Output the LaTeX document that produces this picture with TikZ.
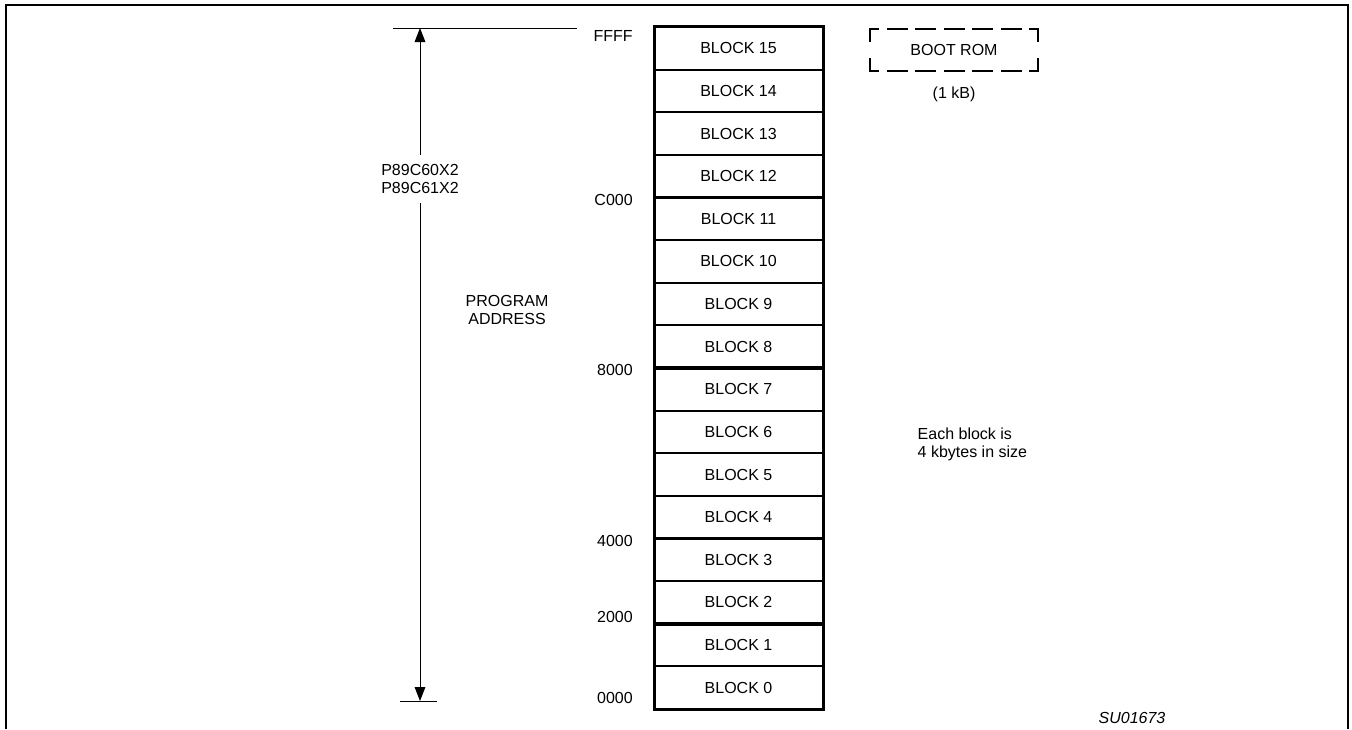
\documentclass[tikz,border=0pt]{standalone}
\usepackage{fontspec}
\setmainfont{Liberation Sans}
\usetikzlibrary{arrows.meta,positioning}

\begin{document}
\begin{tikzpicture}[
  x=0.75pt, y=-0.75pt,
  font=\fontsize{12}{13.5}\selectfont,
  node distance=0pt,
  blk/.style={draw, line width=1.5pt, minimum width=126.75pt, minimum height=31.97pt, inner sep=0pt, outer sep=0pt},
  rim/.style={line width=2.25pt},
  sep/.style={line width=2.8pt},
  addr/.style={anchor=east, inner sep=0pt},
  rom/.style={minimum width=126pt, minimum height=31.5pt, outer sep=0pt},
  romh/.style={line width=1.9pt, line cap=rect, dash pattern=on 13.9pt off 7.5pt, dash phase=7.9pt},
  romv/.style={line width=1.9pt, line cap=rect, dash pattern=on 9pt off 13.5pt},
  thin/.style={line width=0.75pt},
  ar/.style={{Triangle[length=10.5pt,width=8pt]}-{Triangle[length=10.5pt,width=8pt]}, line width=0.75pt}
]
\useasboundingbox (0,0) rectangle (1352,729);

% frame
\draw[line width=1.6pt] (6,729) -- (6,5) -- (1348,5) -- (1348,729);

% memory blocks
\node[blk] (b15) at (738.5,48.3) {BLOCK 15};
\node[blk, below=of b15] (b14) {BLOCK 14};
\node[blk, below=of b14] (b13) {BLOCK 13};
\node[blk, below=of b13] (b12) {BLOCK 12};
\node[blk, below=of b12] (b11) {BLOCK 11};
\node[blk, below=of b11] (b10) {BLOCK 10};
\node[blk, below=of b10] (b9) {BLOCK 9};
\node[blk, below=of b9] (b8) {BLOCK 8};
\node[blk, below=of b8] (b7) {BLOCK 7};
\node[blk, below=of b7] (b6) {BLOCK 6};
\node[blk, below=of b6] (b5) {BLOCK 5};
\node[blk, below=of b5] (b4) {BLOCK 4};
\node[blk, below=of b4] (b3) {BLOCK 3};
\node[blk, below=of b3] (b2) {BLOCK 2};
\node[blk, below=of b2] (b1) {BLOCK 1};
\node[blk, below=of b1] (b0) {BLOCK 0};

\draw[rim] (b15.north west) rectangle (b0.south east);
\draw[sep] (b12.south west) -- (b12.south east);
\draw[sep] (b8.south west) -- (b8.south east);
\draw[sep] (b4.south west) -- (b4.south east);
\draw[sep] (b2.south west) -- (b2.south east);

% addresses
\node[addr] (aFFFF) at (633,36) {FFFF};
\node[addr] (aC000) at (633,200) {C000};
\node[addr] (a8000) at (633,370) {8000};
\node[addr] (a4000) at (633,541) {4000};
\node[addr] (a2000) at (633,617) {2000};
\node[addr] (a0000) at (633,698) {0000};

% program address span
\coordinate (tl) at (393,28);
\coordinate (tr) at (577,28);
\coordinate (top) at (420,28);
\coordinate (bl) at (400,701);
\coordinate (br) at (437,701);
\coordinate (bot) at (420,701);
\draw[thin] (tl) -- (tr);
\draw[thin] (bl) -- (br);
\draw[ar] (bot) -- (top);
\node[fill=white, align=center, inner xsep=2pt, inner ysep=7pt] (dev) at (420,179) {P89C60X2\\P89C61X2};
\node[align=center] (pa) at (507,310) {PROGRAM\\ADDRESS};

% boot rom
\node[rom] (boot) at (954,50) {BOOT ROM};
\draw[romh] (boot.north west) -- (boot.north east);
\draw[romh] (boot.south west) -- (boot.south east);
\draw[romv] (boot.north west) -- (boot.south west);
\draw[romv] (boot.north east) -- (boot.south east);
\node (size) at (954,94) {(1 kB)};

\node[align=left, anchor=west] (note) at (913,444) {Each block is\\4 kbytes in size};
\node[font=\fontsize{12}{13.5}\selectfont\itshape] (fig) at (1132,718) {SU01673};

\end{tikzpicture}
\end{document}
